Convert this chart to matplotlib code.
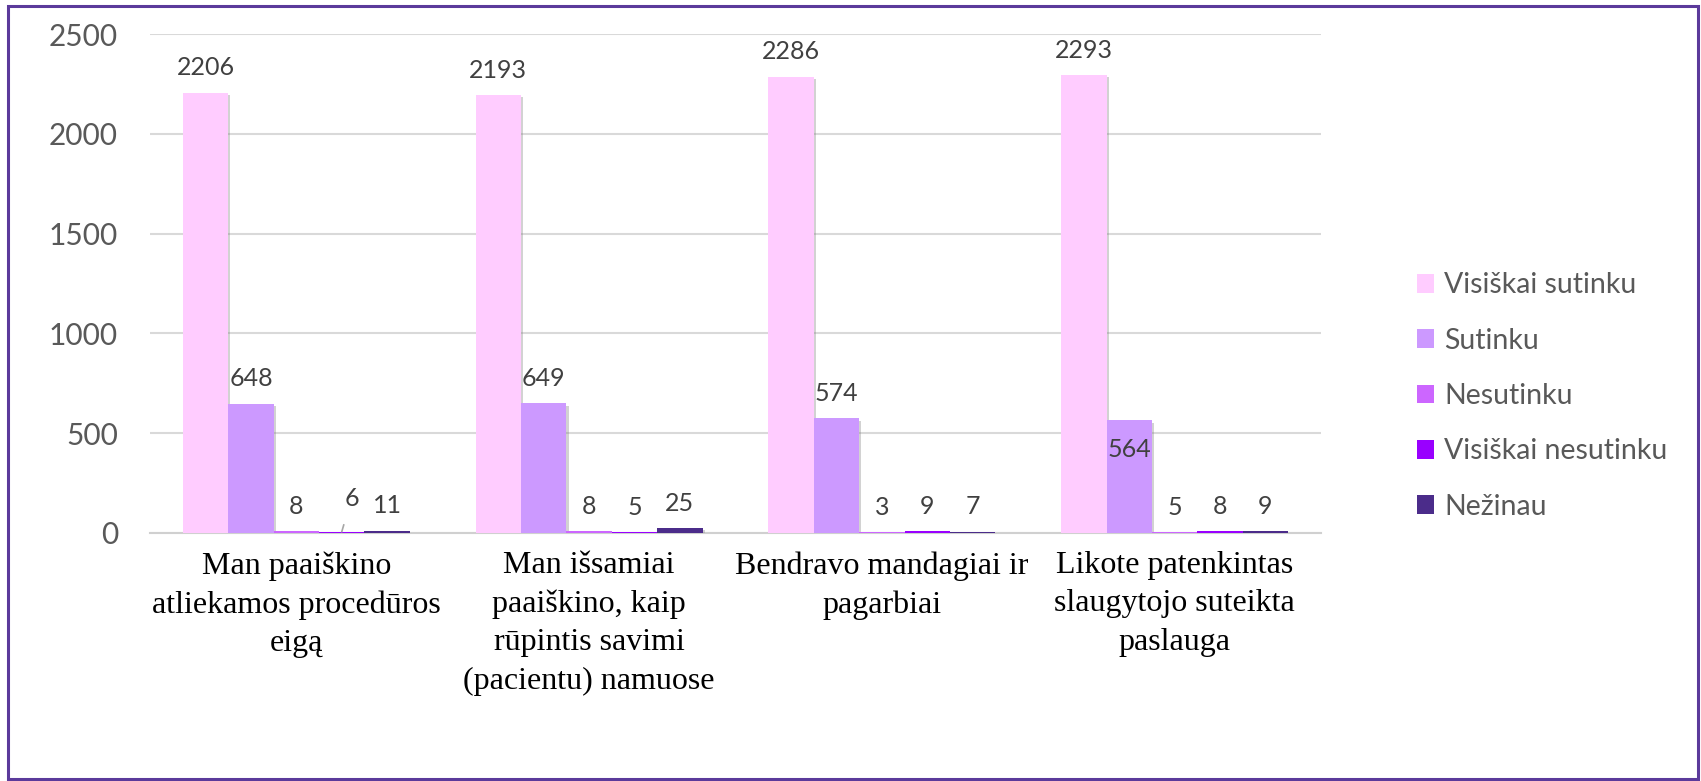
import matplotlib
matplotlib.use("Agg")
import matplotlib.pyplot as plt
import matplotlib.patheffects as pe
from matplotlib.patches import Rectangle, Patch
import numpy as np

categories = [
    "Man paaiškino\natliekamos procedūros\neigą",
    "Man išsamiai\npaaiškino, kaip\nrūpintis savimi\n(pacientu) namuose",
    "Bendravo mandagiai ir\npagarbiai",
    "Likote patenkintas\nslaugytojo suteikta\npaslauga",
]
series_names = ["Visiškai sutinku", "Sutinku", "Nesutinku", "Visiškai nesutinku", "Nežinau"]
visiskai_sutinku = [2206, 2193, 2286, 2293]
sutinku = [648, 649, 574, 564]
nesutinku = [8, 8, 3, 5]
visiskai_nesutinku = [6, 5, 9, 8]
nezinau = [11, 25, 7, 9]
yticks = [0, 500, 1000, 1500, 2000, 2500]

series = [visiskai_sutinku, sutinku, nesutinku, visiskai_nesutinku, nezinau]
colors = ["#FFCCFF", "#CC99FF", "#CC66FF", "#9900FF", "#4B2C8A"]

W, H = 1701, 781
fig = plt.figure(figsize=(W / 100, H / 100), dpi=100)
ax = fig.add_axes([150 / W, 1 - 533 / H, (1321 - 150) / W, (533 - 34) / H])

x = np.arange(len(categories))
bw = 0.155
shadow = [pe.withSimplePatchShadow(offset=(1.5, -1.5), shadow_rgbFace="#808080", alpha=0.35)]

lab_kw = dict(textcoords="offset points", ha="center", va="center", fontsize=18,
              color="#404040", family="Lato", zorder=5)
for i, (vals, col) in enumerate(zip(series, colors)):
    pos = x + (i - 2) * bw
    ax.bar(pos, vals, width=bw, color=col, zorder=3, path_effects=shadow)
    for j, (p, v) in enumerate(zip(pos, vals)):
        if i == 1 and j == 3:
            ax.annotate(str(v), (p, v), xytext=(0, -21), **lab_kw)
        elif i == 3 and j == 0:
            ax.annotate(str(v), (p, v), xytext=(7, 24), **lab_kw,
                        arrowprops=dict(arrowstyle="-", color="#A6A6A6", lw=1.2,
                                        shrinkA=9, shrinkB=0))
        else:
            ax.annotate(str(v), (p, v), xytext=(0, 18), **lab_kw)

ax.set_ylim(0, 2500)
ax.set_xlim(-0.5, len(categories) - 0.5)
ax.set_yticks(yticks)
ax.set_yticklabels([str(t) for t in yticks], fontsize=21.5, color="#595959", family="Lato")
ax.set_xticks(x)
ax.set_xticklabels(categories, fontsize=23, family="Liberation Serif", color="black",
                   linespacing=1.42, va="top")
ax.tick_params(axis="both", length=0)
ax.tick_params(axis="x", pad=13)
ax.tick_params(axis="y", pad=23)
ax.yaxis.grid(True, color="#D9D9D9", lw=1.5, zorder=0)
ax.set_axisbelow(True)
for s in ["top", "right", "left"]:
    ax.spines[s].set_visible(False)
ax.spines["bottom"].set_color("#D0D0D0")
ax.spines["bottom"].set_linewidth(1.5)
ax.spines["bottom"].set_zorder(2)

handles = [Patch(facecolor=c, edgecolor="none") for c in colors]
fig.legend(handles, series_names, loc="center left",
           bbox_to_anchor=(1391 / W, 1 - 396 / H), frameon=False,
           prop={"family": "Lato", "size": 20.5}, labelcolor="#595959",
           handlelength=0.62, handleheight=0.62, handletextpad=0.35,
           labelspacing=1.03)

fig.patches.append(Rectangle((7.5 / W, 2 / H), (1698 - 7.5) / W, (777 - 4) / H,
                             transform=fig.transFigure, fill=False,
                             edgecolor="#5B3A9B", lw=2.2))

fig.savefig("out.png", dpi=100, facecolor="white")
